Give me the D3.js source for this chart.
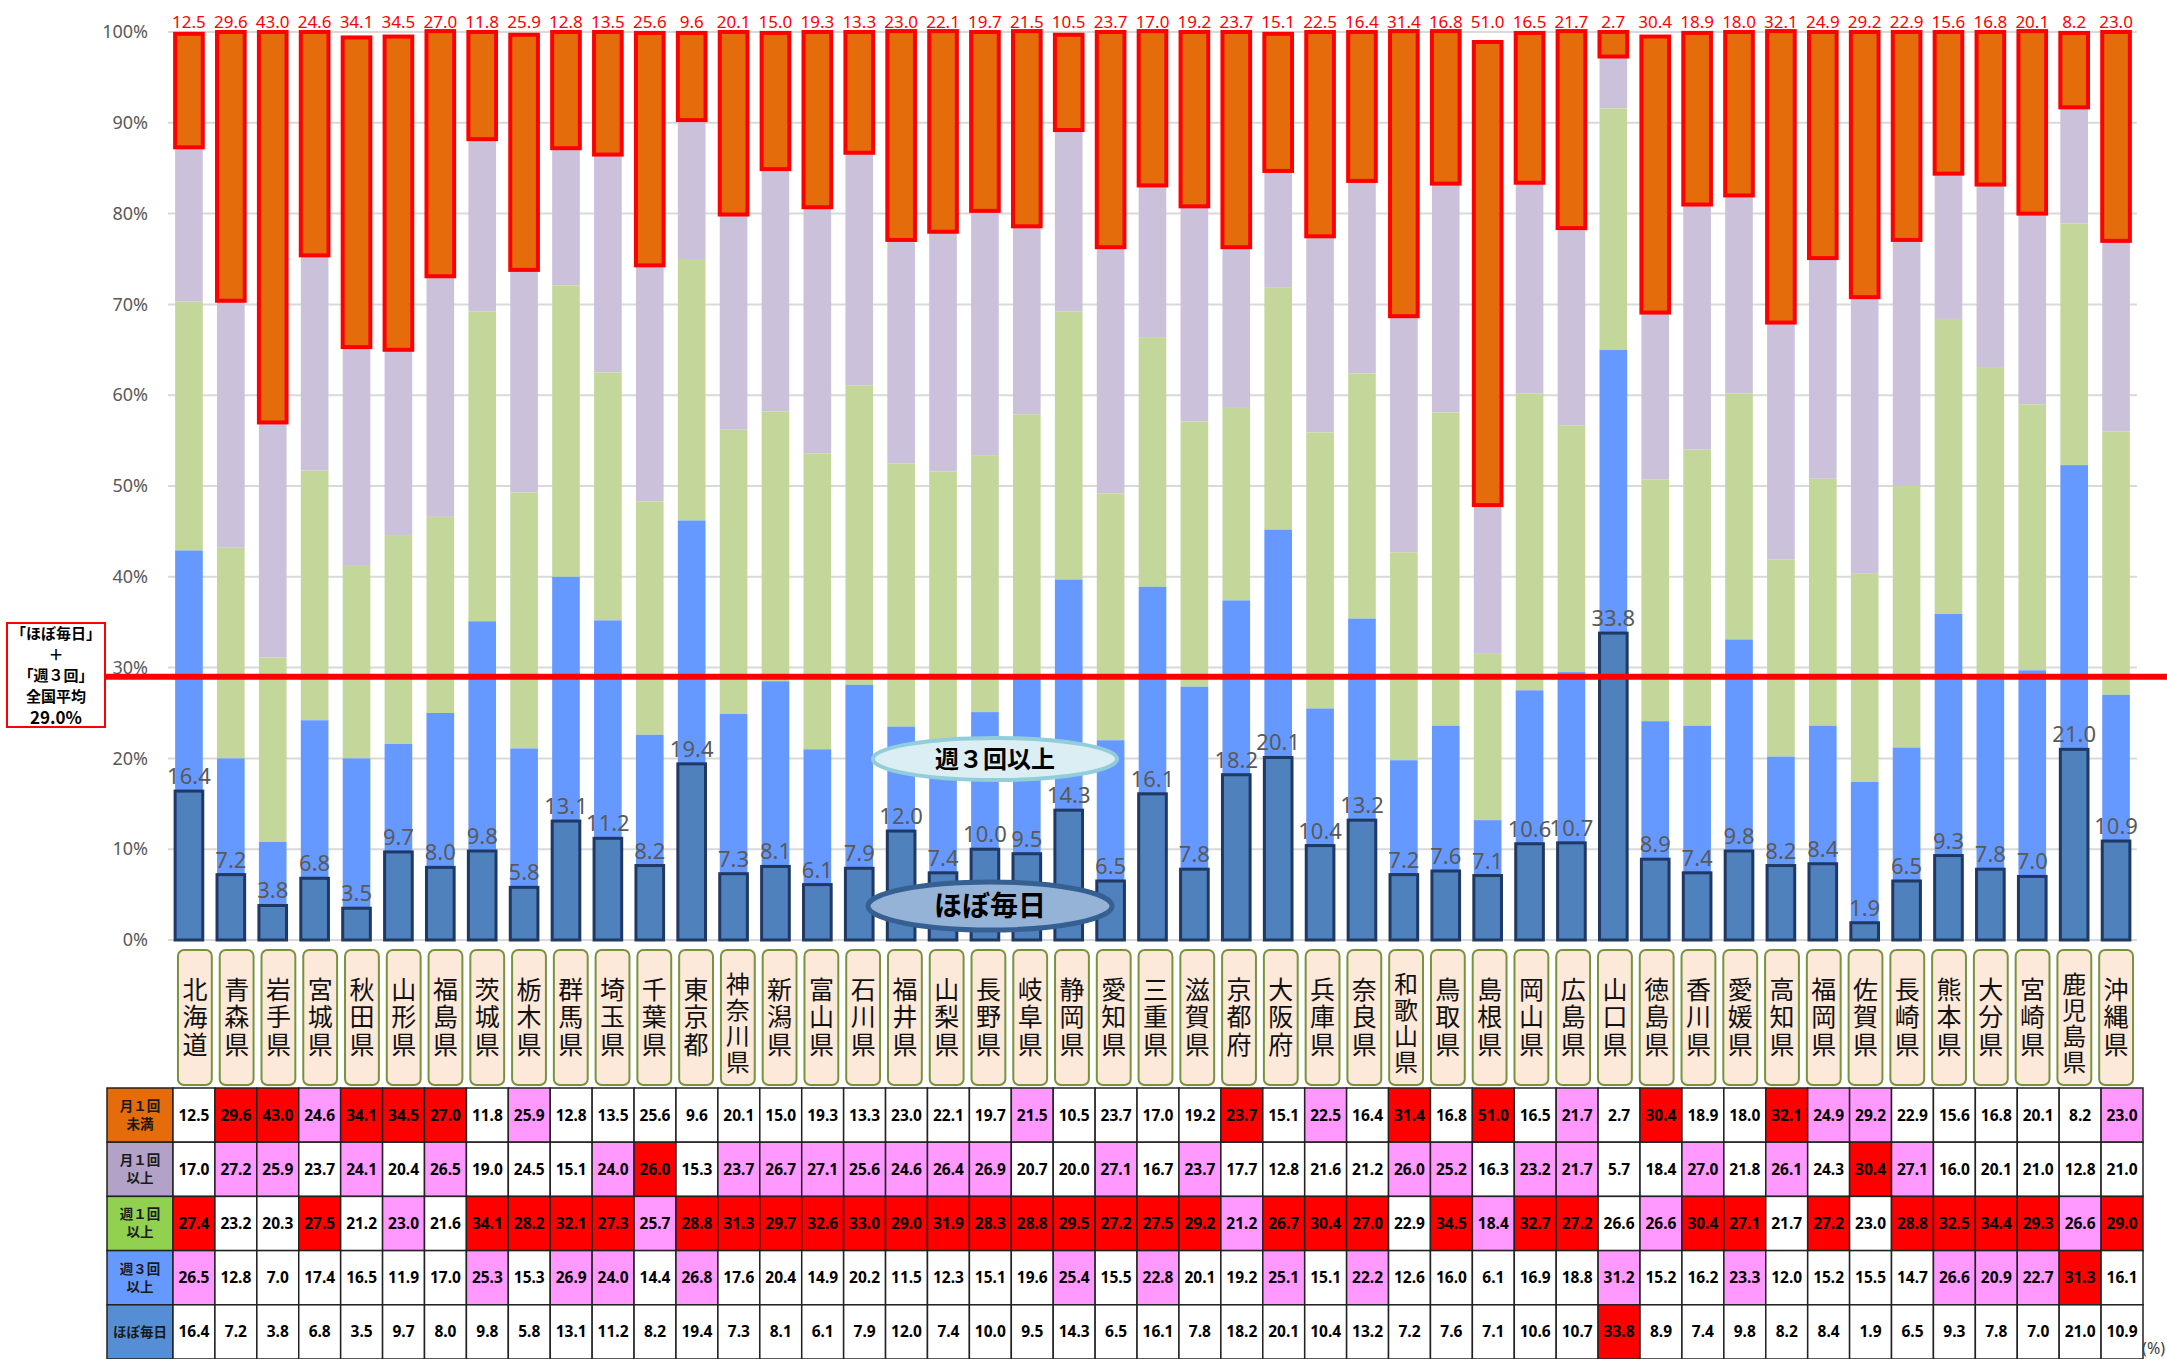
<!DOCTYPE html>
<html>
<head>
<meta charset="utf-8">
<script src="https://cdn.jsdelivr.net/npm/d3@7"></script>
<style>
  body { margin: 0; background: #fff; }
  svg { display: block; }
  text { font-family: "Noto Sans", "Noto Sans CJK JP", sans-serif; }
  .jp { font-family: "Noto Sans CJK JP", "Noto Sans", sans-serif; }
  .vertical { writing-mode: vertical-rl; text-orientation: upright; }
</style>
</head>
<body>
<svg id="chart" width="2167" height="1359"></svg>
<script>
// 47 prefectures, north to south
const prefectures = [
  "北海道","青森県","岩手県","宮城県","秋田県","山形県","福島県","茨城県","栃木県","群馬県",
  "埼玉県","千葉県","東京都","神奈川県","新潟県","富山県","石川県","福井県","山梨県","長野県",
  "岐阜県","静岡県","愛知県","三重県","滋賀県","京都府","大阪府","兵庫県","奈良県","和歌山県",
  "鳥取県","島根県","岡山県","広島県","山口県","徳島県","香川県","愛媛県","高知県","福岡県",
  "佐賀県","長崎県","熊本県","大分県","宮崎県","鹿児島県","沖縄県"
];

// Share of respondents by frequency (%)
const lessThanMonthly = [12.5,29.6,43.0,24.6,34.1,34.5,27.0,11.8,25.9,12.8,13.5,25.6,9.6,20.1,15.0,19.3,13.3,23.0,22.1,19.7,21.5,10.5,23.7,17.0,19.2,23.7,15.1,22.5,16.4,31.4,16.8,51.0,16.5,21.7,2.7,30.4,18.9,18.0,32.1,24.9,29.2,22.9,15.6,16.8,20.1,8.2,23.0];
const monthly         = [17.0,27.2,25.9,23.7,24.1,20.4,26.5,19.0,24.5,15.1,24.0,26.0,15.3,23.7,26.7,27.1,25.6,24.6,26.4,26.9,20.7,20.0,27.1,16.7,23.7,17.7,12.8,21.6,21.2,26.0,25.2,16.3,23.2,21.7,5.7,18.4,27.0,21.8,26.1,24.3,30.4,27.1,16.0,20.1,21.0,12.8,21.0];
const weekly          = [27.4,23.2,20.3,27.5,21.2,23.0,21.6,34.1,28.2,32.1,27.3,25.7,28.8,31.3,29.7,32.6,33.0,29.0,31.9,28.3,28.8,29.5,27.2,27.5,29.2,21.2,26.7,30.4,27.0,22.9,34.5,18.4,32.7,27.2,26.6,26.6,30.4,27.1,21.7,27.2,23.0,28.8,32.5,34.4,29.3,26.6,29.0];
const thriceWeekly    = [26.5,12.8,7.0,17.4,16.5,11.9,17.0,25.3,15.3,26.9,24.0,14.4,26.8,17.6,20.4,14.9,20.2,11.5,12.3,15.1,19.6,25.4,15.5,22.8,20.1,19.2,25.1,15.1,22.2,12.6,16.0,6.1,16.9,18.8,31.2,15.2,16.2,23.3,12.0,15.2,15.5,14.7,26.6,20.9,22.7,31.3,16.1];
const almostDaily     = [16.4,7.2,3.8,6.8,3.5,9.7,8.0,9.8,5.8,13.1,11.2,8.2,19.4,7.3,8.1,6.1,7.9,12.0,7.4,10.0,9.5,14.3,6.5,16.1,7.8,18.2,20.1,10.4,13.2,7.2,7.6,7.1,10.6,10.7,33.8,8.9,7.4,9.8,8.2,8.4,1.9,6.5,9.3,7.8,7.0,21.0,10.9];

// National average of "almost daily" + "3 times a week"
const nationalAverage = 29.0;

// Table highlight per cell: R = strongly above, P = above, W = none
const highlightLessThanMonthly = "WRRPRRRWPW" + "WWWWWWWWWW" + "PWWWWRWPWR" + "WRWPWRWWRP" + "PWWWWWP";
const highlightMonthly         = "WPPWPWPWWW" + "PRWPPPPPPP" + "WWPWPWWWWP" + "PWPPWWPWPW" + "RPWWWWW";
const highlightWeekly          = "RWWRWPWRRR" + "RPRRRRRRRR" + "RRRRRPRRRW" + "RPRRWPRRWR" + "WRRRRPR";
const highlightThriceWeekly    = "PWWWWWWPWP" + "PWPWWWWWWW" + "WPWPWWPWPW" + "WWWWPWWPWW" + "WWPPPRW";
const highlightAlmostDaily     = "WWWWWWWWWW" + "WWWWWWWWWW" + "WWWWWWWWWW" + "WWWWRWWWWW" + "WWWWWWW";

const yTicks = [0,10,20,30,40,50,60,70,80,90,100];

const seriesKeys = ["almostDaily","thriceWeekly","weekly","monthly","lessThanMonthly"];
const seriesFill = {
  almostDaily: "#4f81bd", thriceWeekly: "#6699ff", weekly: "#c4d79b",
  monthly: "#ccc1da", lessThanMonthly: "#e46c0a"
};

const rows = prefectures.map((p, i) => ({
  pref: p,
  almostDaily: almostDaily[i], thriceWeekly: thriceWeekly[i], weekly: weekly[i],
  monthly: monthly[i], lessThanMonthly: lessThanMonthly[i]
}));

const svg = d3.select("#chart");

const y = d3.scaleLinear().domain([0, 100]).range([940, 32]);
const xBar = d3.scaleBand().domain(prefectures).range([168, 2137]).paddingInner(0.34).paddingOuter(0.17);
const xLab = d3.scaleBand().domain(prefectures).range([174, 2137]).paddingInner(0.19).paddingOuter(0.095);
const xTab = d3.scaleBand().domain(prefectures).range([173, 2143]);

// gridlines
svg.append("g").selectAll("line").data(yTicks).join("line")
  .attr("x1", 168).attr("x2", 2137)
  .attr("y1", d => y(d)).attr("y2", d => y(d))
  .attr("stroke", "#d9d9d9").attr("stroke-width", 2);

// y axis labels
const yAxis = d3.axisLeft(y).tickValues(yTicks).tickFormat(d => d + "%").tickSize(0).tickPadding(0);
const gy = svg.append("g").attr("transform", "translate(148,0)").call(yAxis);
gy.select(".domain").remove();
gy.selectAll("text").attr("font-size", 18).attr("fill", "#595959")
  .style("font-family", "'Noto Sans', sans-serif");

// stacked bars
const stacked = d3.stack().keys(seriesKeys)(rows);
const layerOrder = ["monthly","weekly","thriceWeekly","almostDaily","lessThanMonthly"];
layerOrder.forEach(key => {
  const layer = stacked.find(s => s.key === key);
  const g = svg.append("g");
  const r = g.selectAll("rect").data(layer).join("rect")
    .attr("x", d => xBar(d.data.pref))
    .attr("width", xBar.bandwidth())
    .attr("y", d => y(d[1]))
    .attr("height", d => y(d[0]) - y(d[1]))
    .attr("fill", seriesFill[key]);
  if (key === "almostDaily") r.attr("stroke", "#1f3864").attr("stroke-width", 3);
  if (key === "lessThanMonthly") r.attr("stroke", "#ff0000").attr("stroke-width", 4);
});

// value labels for "almost daily"
svg.append("g").selectAll("text").data(rows).join("text")
  .attr("x", d => xBar(d.pref) + xBar.bandwidth() / 2)
  .attr("y", d => y(d.almostDaily) - 7)
  .attr("text-anchor", "middle")
  .attr("font-size", 22).attr("fill", "#595959")
  .text(d => d.almostDaily.toFixed(1));

// value labels for "less than monthly" along the top
svg.append("g").selectAll("text").data(rows).join("text")
  .attr("x", d => xBar(d.pref) + xBar.bandwidth() / 2)
  .attr("y", 28)
  .attr("text-anchor", "middle")
  .attr("font-size", 17).attr("fill", "#ff0000")
  .text(d => d.lessThanMonthly.toFixed(1));

// national average line
svg.append("line")
  .attr("x1", 105).attr("x2", 2167)
  .attr("y1", y(nationalAverage)).attr("y2", y(nationalAverage))
  .attr("stroke", "#ff0000").attr("stroke-width", 6);

// average annotation box
const note = svg.append("g");
note.append("rect").attr("x", 7).attr("y", 623).attr("width", 98).attr("height", 104)
  .attr("fill", "#fff").attr("stroke", "#ff0000").attr("stroke-width", 2);
const noteLines = ["「ほぼ毎日」", "＋", "「週３回」", "全国平均", nationalAverage.toFixed(1) + "%"];
note.selectAll("text").data(noteLines).join("text")
  .attr("class", "jp")
  .attr("x", 56)
  .attr("y", (d, i) => [634, 655, 676, 697, 718][i])
  .attr("dy", "0.36em")
  .attr("text-anchor", "middle")
  .attr("font-size", (d, i) => i === 4 ? 17 : 15)
  .attr("font-weight", "bold").attr("fill", "#000")
  .text(d => d);

// series callouts
const callouts = [
  { label: "週３回以上", cx: 995, cy: 759, rx: 122, ry: 21, fill: "#daeef3", stroke: "#92cddc", sw: 4, fs: 24 },
  { label: "ほぼ毎日", cx: 990, cy: 906, rx: 122, ry: 24, fill: "#95b3d7", stroke: "#366092", sw: 5, fs: 28 }
];
callouts.forEach(c => {
  svg.append("ellipse").attr("cx", c.cx).attr("cy", c.cy).attr("rx", c.rx).attr("ry", c.ry)
    .attr("fill", c.fill).attr("stroke", c.stroke).attr("stroke-width", c.sw);
  svg.append("text").attr("class", "jp").attr("x", c.cx).attr("y", c.cy).attr("dy", "0.36em")
    .attr("text-anchor", "middle").attr("font-size", c.fs).attr("font-weight", "bold")
    .attr("fill", "#000").text(c.label);
});

// prefecture name tags, written vertically
const tags = svg.append("g").selectAll("g").data(prefectures).join("g")
  .attr("transform", d => `translate(${xLab(d)},0)`);
tags.append("rect")
  .attr("x", 0).attr("y", 950).attr("width", xLab.bandwidth()).attr("height", 135)
  .attr("rx", 6).attr("fill", "#fde9d9").attr("stroke", "#77933c").attr("stroke-width", 2);
tags.append("text")
  .attr("class", "jp vertical")
  .attr("x", xLab.bandwidth() / 2)
  .attr("y", d => Array.from(d).length > 3 ? 1024 : 1018)
  .attr("text-anchor", "middle")
  .attr("font-size", d => Array.from(d).length > 3 ? 24 : 25)
  .attr("letter-spacing", d => Array.from(d).length > 3 ? 2 : 2.5)
  .attr("fill", "#111")
  .text(d => d);

// data table
const tableRows = [
  { head: ["月１回", "未満"], color: "#e46c0a", values: lessThanMonthly, marks: highlightLessThanMonthly },
  { head: ["月１回", "以上"], color: "#b3a2c7", values: monthly, marks: highlightMonthly },
  { head: ["週１回", "以上"], color: "#92d050", values: weekly, marks: highlightWeekly },
  { head: ["週３回", "以上"], color: "#6699ff", values: thriceWeekly, marks: highlightThriceWeekly },
  { head: ["ほぼ毎日"], color: "#558ed5", values: almostDaily, marks: highlightAlmostDaily }
];
const markFill = { R: "#ff0000", P: "#ff99ff", W: "#ffffff" };
const rowTop = 1088, rowH = 54.2;
const table = svg.append("g");
tableRows.forEach((row, r) => {
  const ty = rowTop + r * rowH;
  table.append("rect").attr("x", 107).attr("y", ty).attr("width", xTab.range()[0] - 107).attr("height", rowH)
    .attr("fill", row.color).attr("stroke", "#222").attr("stroke-width", 1.5);
  const hl = row.head;
  hl.forEach((t, k) => {
    table.append("text").attr("class", "jp")
      .attr("x", (107 + xTab.range()[0]) / 2)
      .attr("y", ty + rowH / 2 + (hl.length === 1 ? 0 : (k === 0 ? -9 : 9)))
      .attr("dy", "0.36em").attr("text-anchor", "middle")
      .attr("font-size", 13.5).attr("font-weight", "bold").attr("fill", "#1a1a1a")
      .text(t);
  });
  const cells = table.append("g").selectAll("g").data(prefectures).join("g");
  cells.append("rect")
    .attr("x", d => xTab(d)).attr("y", ty)
    .attr("width", xTab.bandwidth()).attr("height", rowH)
    .attr("fill", (d, i) => markFill[row.marks[i]])
    .attr("stroke", "#222").attr("stroke-width", 1.5);
  cells.append("text")
    .attr("x", d => xTab(d) + xTab.bandwidth() / 2)
    .attr("y", ty + rowH / 2).attr("dy", "0.36em")
    .attr("text-anchor", "middle")
    .attr("font-size", 15.5).attr("font-weight", "bold").attr("fill", "#000")
    .text((d, i) => row.values[i].toFixed(1));
});

svg.append("text").attr("x", 2165).attr("y", 1354).attr("text-anchor", "end")
  .attr("font-size", 16).attr("fill", "#404040").text("(%)");
</script>
</body>
</html>
